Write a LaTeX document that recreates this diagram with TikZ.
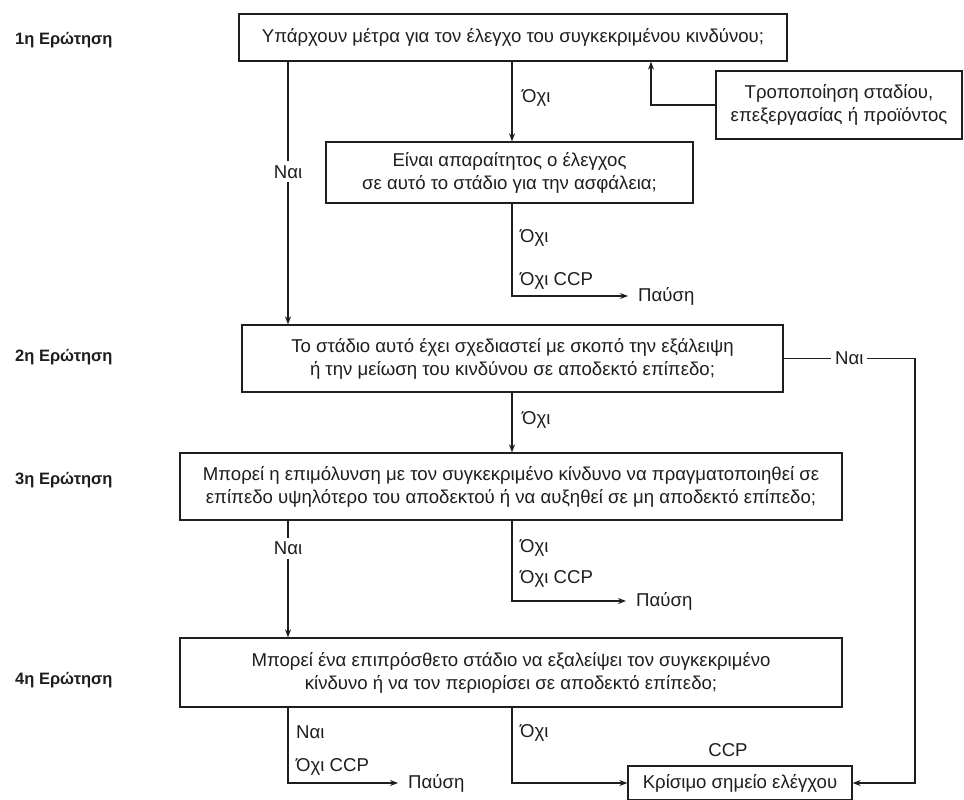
\documentclass[tikz,border=0pt]{standalone}
\usepackage{fontspec}
\setmainfont{Liberation Sans}
\usetikzlibrary{arrows.meta}
\definecolor{ink}{HTML}{1E1E1E}
\begin{document}
\begin{tikzpicture}[x=1pt,y=-1pt,
  every node/.style={text=ink, font=\fontsize{18.6}{23}\selectfont},
  qbox/.style={draw=ink, line width=1.3pt, align=center, inner sep=0pt},
  lbl/.style={anchor=west, inner sep=0pt},
  stopn/.style={anchor=west, inner sep=0pt, inner xsep=10pt},
  qlabel/.style={anchor=west, inner sep=0pt, font=\fontsize{16.5}{20}\selectfont\bfseries},
  conn/.style={draw=ink, line width=1.2pt},
  arr/.style={conn, -{Stealth[length=8pt,width=6pt]}},
  gap/.style={fill=white, inner sep=4pt}]
\useasboundingbox (0,0) rectangle (964,800);
\fill[white] (0,0) rectangle (964,800);

% column coordinates
\coordinate (cL) at (288,0);
\coordinate (cM) at (512,0);
\coordinate (cR) at (651,0);
\coordinate (cRR) at (915,0);

% question labels
\node[qlabel] (l1) at (15,40) {1η Ερώτηση};
\node[qlabel] (l2) at (15,357) {2η Ερώτηση};
\node[qlabel] (l3) at (15,480) {3η Ερώτηση};
\node[qlabel] (l4) at (15,680) {4η Ερώτηση};

% boxes
\node[qbox, minimum width=548pt, minimum height=47pt] (b1) at (513,37.5)
  {Υπάρχουν μέτρα για τον έλεγχο του συγκεκριμένου κινδύνου;};
\node[qbox, minimum width=367pt, minimum height=61pt] (b2) at (509.5,172.5)
  {Είναι απαραίτητος ο έλεγχος\\σε αυτό το στάδιο για την ασφάλεια;};
\node[qbox, minimum width=246pt, minimum height=68pt] (mod) at (839,105)
  {Τροποποίηση σταδίου,\\επεξεργασίας ή προϊόντος};
\node[qbox, minimum width=541pt, minimum height=67pt] (q2) at (512.5,358.5)
  {Το στάδιο αυτό έχει σχεδιαστεί με σκοπό την εξάλειψη\\ή την μείωση του κινδύνου σε αποδεκτό επίπεδο;};
\node[qbox, minimum width=662pt, minimum height=67pt] (q3) at (511,486.5)
  {Μπορεί η επιμόλυνση με τον συγκεκριμένο κίνδυνο να πραγματοποιηθεί σε\\επίπεδο υψηλότερο του αποδεκτού ή να αυξηθεί σε μη αποδεκτό επίπεδο;};
\node[qbox, minimum width=662pt, minimum height=69pt] (q4) at (511,672.5)
  {Μπορεί ένα επιπρόσθετο στάδιο να εξαλείψει τον συγκεκριμένο\\κίνδυνο ή να τον περιορίσει σε αποδεκτό επίπεδο;};
\node[qbox, minimum width=224pt, minimum height=34pt] (ccp) at (740,783)
  {Κρίσιμο σημείο ελέγχου};
\node (ccplbl) at (728,750) {CCP};

% stop nodes
\node[stopn] (s1) at (628,296) {Παύση};
\node[stopn] (s2) at (626,601) {Παύση};
\node[stopn] (s3) at (398,783) {Παύση};

% labels on branches
\node[lbl] (t1) at (522,98) {Όχι};
\node[lbl] (t2) at (520,238) {Όχι};
\node[lbl] (t3) at (520,281) {Όχι CCP};
\node[lbl] (t4) at (522,420) {Όχι};
\node[lbl] (t5) at (520,548) {Όχι};
\node[lbl] (t6) at (520,579) {Όχι CCP};
\node[lbl] (t7) at (296,732) {Ναι};
\node[lbl] (t8) at (296,767) {Όχι CCP};
\node[lbl] (t9) at (520,733) {Όχι};

% connectors
\draw[arr] (cL |- b1.south) -- node[gap, pos=0.42] {Ναι} (cL |- q2.north);
\draw[arr] (cM |- b1.south) -- (cM |- b2.north);
\draw[arr] (mod.west) -| (cR |- b1.south);
\draw[arr] (cM |- b2.south) |- (s1.west);
\draw[arr] (q2.east) -- node[gap] {Ναι} (cRR |- q2.east) |- (ccp.east);
\draw[arr] (cM |- q2.south) -- (cM |- q3.north);
\draw[arr] (cL |- q3.south) -- node[gap, pos=0.24] {Ναι} (cL |- q4.north);
\draw[arr] (cM |- q3.south) |- (s2.west);
\draw[arr] (cL |- q4.south) |- (s3.west);
\draw[arr] (cM |- q4.south) |- (ccp.west);
\end{tikzpicture}
\end{document}
